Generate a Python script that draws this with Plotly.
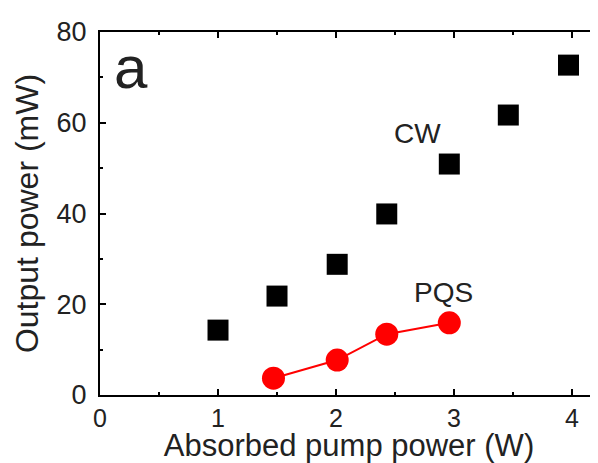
import plotly.graph_objects as go

cw_x = [1.0, 1.5, 2.01, 2.43, 2.96, 3.46, 3.97]
cw_y = [14.3, 21.8, 28.8, 39.9, 50.9, 61.7, 72.7]
pqs_x = [1.47, 2.01, 2.43, 2.96]
pqs_y = [3.7, 7.7, 13.4, 15.9]

x_ticks = [0, 1, 2, 3, 4]
y_ticks = [0, 20, 40, 60, 80]

fig = go.Figure()
fig.add_trace(go.Scatter(x=cw_x, y=cw_y, mode="markers",
                         marker=dict(symbol="square", size=21, color="black"),
                         showlegend=False))
fig.add_trace(go.Scatter(x=pqs_x, y=pqs_y, mode="lines+markers",
                         line=dict(color="#ff0000", width=2),
                         marker=dict(symbol="circle", size=23, color="#ff0000"),
                         showlegend=False))

font = "Liberation Sans, Arial, sans-serif"
txt = "#222"
axis_common = dict(showline=True, linecolor="black", linewidth=2, mirror="ticks",
                   ticks="inside", ticklen=6, tickwidth=2, tickcolor="black",
                   showgrid=False, zeroline=False, automargin=False)
fig.update_xaxes(range=[0, 4.22], tickvals=x_ticks,
                 tickfont=dict(family=font, size=25, color=txt),
                 minor=dict(ticks="inside", ticklen=3, tickwidth=2, dtick=0.5, tick0=0, tickcolor="black"),
                 title=dict(text="Absorbed pump power (W)", font=dict(family=font, size=31, color=txt), standoff=2),
                 **axis_common)
fig.update_yaxes(range=[0, 80], tickvals=y_ticks, ticklabelstandoff=6,
                 tickfont=dict(family=font, size=27, color=txt),
                 minor=dict(ticks="inside", ticklen=3, tickwidth=2, dtick=10, tick0=0, tickcolor="black"),
                 title=dict(text="Output power (mW)", font=dict(family=font, size=32, color=txt), standoff=8),
                 **axis_common)

fig.add_annotation(text="a", xref="paper", yref="paper", x=0.025, y=1.0, xanchor="left", yanchor="top",
                   showarrow=False, font=dict(family=font, size=60, color=txt))
fig.add_annotation(text="CW", x=2.69, y=57.7, showarrow=False,
                   font=dict(family=font, size=28, color=txt))
fig.add_annotation(text="PQS", x=2.91, y=22.7, showarrow=False,
                   font=dict(family=font, size=28, color=txt))

# page has an 8px body margin; size the figure so the plot lands where the reference has it
fig.update_layout(width=590, height=455, margin=dict(l=92, r=0, t=24, b=68),
                  plot_bgcolor="white", paper_bgcolor="white")
fig.write_html("out.html")
